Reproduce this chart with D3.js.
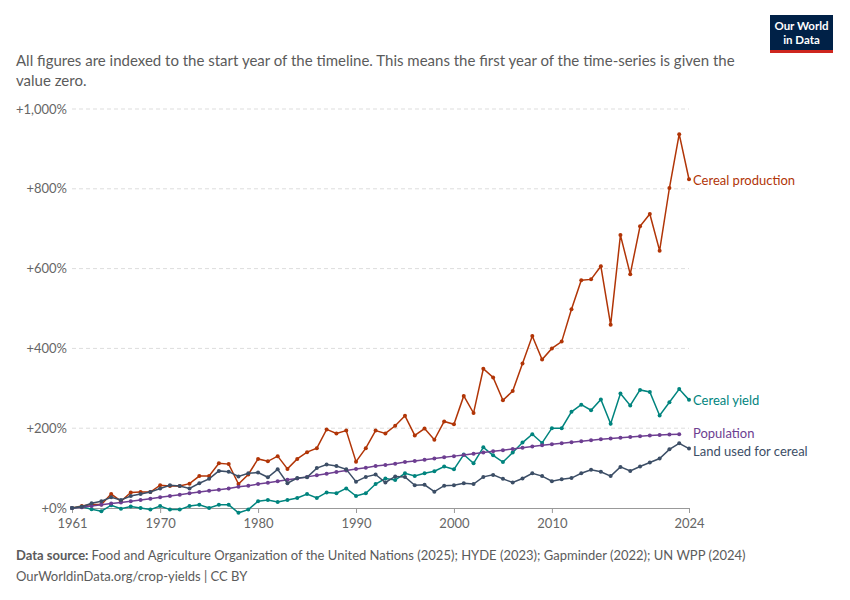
<!DOCTYPE html>
<html>
<head>
<meta charset="utf-8">
<script src="https://cdn.jsdelivr.net/npm/d3@7"></script>
<style>
  body { margin: 0; background: #fff; font-family: Lato, "Noto Sans", sans-serif; }
</style>
</head>
<body>
<svg id="chart" width="850" height="600"></svg>
<script>
// years 1961 .. 2024
const years = d3.range(1961, 2025);

const production = [0,5,9,9,35,17,39,40,40,57,55,55,61,80,80,112,110,60,84,123,
  117,130,98,123,140,150,197,187,194,116,150,194,187,206,231,182,199,171,217,210,
  281,238,349,327,270,293,362,431,372,400,417,498,571,573,606,459,684,586,706,737,
  645,802,937,824];
const yieldIdx = [0,3,-3,-8,7,-2,4,0,-4,5,-4,-4,5,8,0,8,8,-12,-4,17,
  20,15,20,25,35,25,39,37,49,30,37,60,74,70,87,80,87,92,104,97,
  134,112,152,132,115,139,164,185,163,200,200,241,259,245,272,211,287,257,296,291,
  232,265,298,271];
const land = [0,3,12,17,27,20,30,35,40,49,57,55,49,62,73,93,91,79,87,89,
  77,97,62,75,77,100,109,105,97,66,78,84,64,79,78,57,58,41,56,57,
  62,60,78,83,73,64,74,87,80,67,72,75,87,96,91,80,103,93,104,114,
  124,147,162,149];
// population stops at 2023
const population = [0,2,5,8,11,14,17,20,23,27,30,33,37,40,43,46,49,53,56,60,
  63,67,71,74,78,82,86,90,94,98,101,105,108,111,115,118,121,124,127,130,
  133,136,139,142,145,148,151,154,157,160,162,165,167,170,172,174,176,178,180,182,
  183,184,185];

const yTicks = [0, 200, 400, 600, 800, 1000];
const xTicks = [1961, 1970, 1980, 1990, 2000, 2010, 2024];

const series = [
  {name: "Cereal production", values: production, color: "#b13507", labelY: 180},
  {name: "Cereal yield", values: yieldIdx, color: "#00847e", labelY: 400},
  {name: "Population", values: population, color: "#6d3e91", labelY: 433},
  {name: "Land used for cereal", values: land, color: "#3c4e66", labelY: 451}
];

const svg = d3.select("#chart");
const m = {left: 72, right: 689, top: 109, bottom: 508};

const x = d3.scaleLinear().domain([1961, 2024]).range([m.left, m.right]);
const y = d3.scaleLinear().domain([0, 1000]).range([m.bottom, m.top]);

// subtitle
const sub = svg.append("text").attr("x", 16).attr("y", 66)
  .attr("font-size", 15).attr("fill", "#5b5b5b");
sub.append("tspan").attr("x", 16).text("All figures are indexed to the start year of the timeline. This means the first year of the time-series is given the");
sub.append("tspan").attr("x", 16).attr("dy", 20).text("value zero.");

// logo
const logo = svg.append("g");
logo.append("rect").attr("x", 770).attr("y", 15).attr("width", 63).attr("height", 35).attr("fill", "#002147");
logo.append("rect").attr("x", 770).attr("y", 50).attr("width", 63).attr("height", 3).attr("fill", "#ce261e");
logo.append("text").attr("x", 801.5).attr("y", 30).attr("text-anchor", "middle")
  .attr("fill", "#fff").attr("font-size", 11.5).attr("font-weight", 700).text("Our World");
logo.append("text").attr("x", 801.5).attr("y", 44).attr("text-anchor", "middle")
  .attr("fill", "#fff").attr("font-size", 11.5).attr("font-weight", 700).text("in Data");

// grid + y labels
yTicks.forEach(t => {
  if (t > 0) {
    svg.append("line").attr("x1", m.left).attr("x2", m.right)
      .attr("y1", y(t)).attr("y2", y(t))
      .attr("stroke", "#ddd").attr("stroke-dasharray", "4,3");
  }
  svg.append("text").attr("x", 67).attr("y", y(t) + 4.5).attr("text-anchor", "end")
    .attr("font-size", 13).attr("fill", "#666")
    .text((t === 0 ? "+0" : "+" + d3.format(",")(t)) + "%");
});

// x axis
const xAxis = svg.append("g").attr("transform", "translate(0," + m.bottom + ")")
  .call(d3.axisBottom(x).tickValues(xTicks).tickFormat(d3.format("d")).tickSize(5).tickSizeOuter(0));
xAxis.select(".domain").attr("stroke", "#999");
xAxis.selectAll(".tick line").attr("stroke", "#999");
xAxis.selectAll(".tick text").attr("font-family", "Lato").attr("font-size", 13).attr("fill", "#666").attr("dy", "0.9em");

// lines
const line = d3.line().x((d, i) => x(years[i])).y(d => y(d));
series.forEach(s => {
  svg.append("path").datum(s.values).attr("d", line)
    .attr("fill", "none").attr("stroke", s.color).attr("stroke-width", 1.5);
  svg.append("g").selectAll("circle").data(s.values).enter().append("circle")
    .attr("cx", (d, i) => x(years[i])).attr("cy", d => y(d)).attr("r", 2)
    .attr("fill", s.color);
  svg.append("text").attr("x", 693).attr("y", s.labelY + 5)
    .attr("font-size", 13).attr("fill", s.color).text(s.name);
});

// footer
const f1 = svg.append("text").attr("x", 16).attr("y", 560).attr("font-size", 13).attr("fill", "#5b5b5b");
f1.append("tspan").attr("font-weight", 700).text("Data source: ");
f1.append("tspan").text("Food and Agriculture Organization of the United Nations (2025); HYDE (2023); Gapminder (2022); UN WPP (2024)");
svg.append("text").attr("x", 16).attr("y", 581).attr("font-size", 13).attr("fill", "#5b5b5b")
  .text("OurWorldinData.org/crop-yields | CC BY");
</script>
</body>
</html>
